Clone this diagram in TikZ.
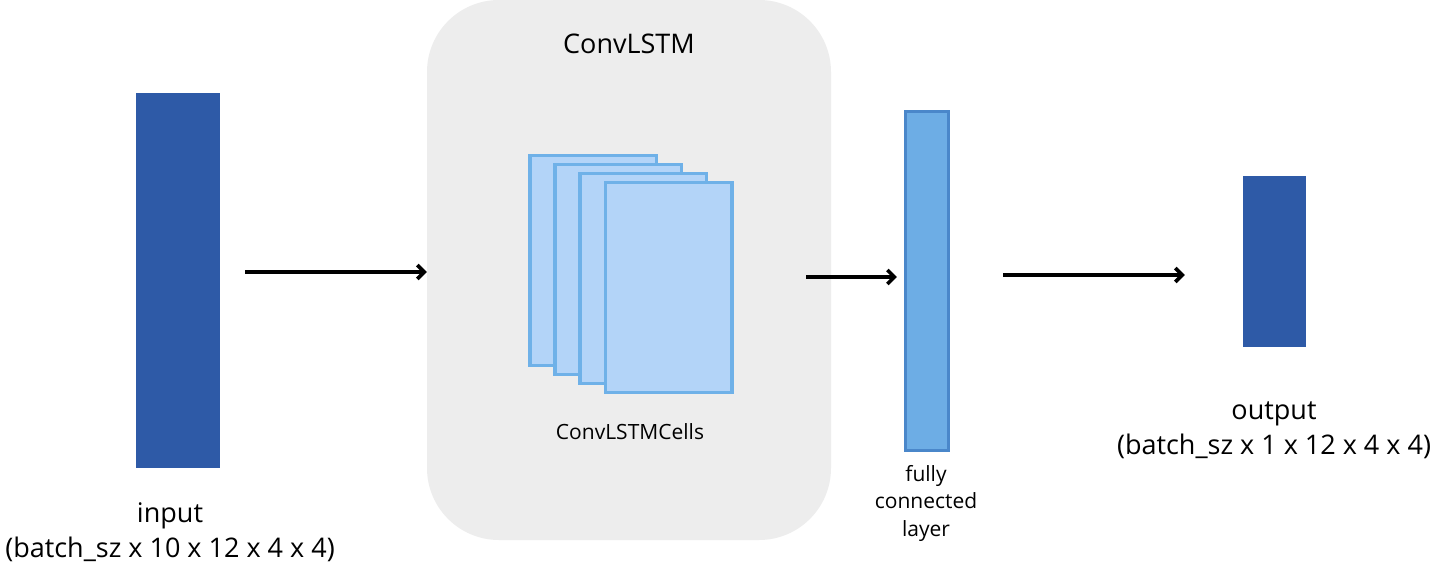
\documentclass[tikz,border=0pt]{standalone}
\usepackage{fontspec}
\setmainfont{Open Sans}
\usetikzlibrary{arrows.meta}
\usetikzlibrary{calc}

\definecolor{tensorblue}{HTML}{2E5AA7}
\definecolor{fcfill}{HTML}{6DADE5}
\definecolor{fcline}{HTML}{4A87CA}
\definecolor{cellfill}{HTML}{B3D4F8}
\definecolor{cellline}{HTML}{6FB1E8}
\definecolor{panelgray}{HTML}{EDEDED}

\tikzset{
    tensor/.style={fill=tensorblue, draw=none, inner sep=0pt},
    cell/.style={fill=cellfill, draw=cellline, line width=3.5pt,
        minimum width=126.5, minimum height=209.5, inner sep=0pt},
    flow/.style={line width=3.6pt, -{Straight Barb[length=7pt,width=14pt]}},
    bigtext/.style={font=\fontsize{27}{35}\selectfont, align=center},
    smalltext/.style={font=\fontsize{21}{27.5}\selectfont, align=center},
}

\begin{document}
\begin{tikzpicture}[x=1pt,y=-1pt]
    \useasboundingbox[fill=white] (0,0) rectangle (1436,572);

    % grey panel behind the recurrent part
    \node [fill=panelgray, rounded corners=72, minimum width=404, minimum height=540,
        inner sep=0pt] at (629,270) (panel) {};
    \node [bigtext] at (629,44) (paneltitle) {ConvLSTM};

    % stack of cells, back to front
    \foreach \i in {1,...,4} {
        \node [cell] at ({593+25.2*(\i-1)},{260.5+9*(\i-1)}) (cell\i) {};
    }
    \node [smalltext] at (630,432) (celltext) {ConvLSTMCells};

    % input tensor
    \node [tensor, minimum width=84, minimum height=375] at (178,280.5) (input) {};
    \node [bigtext] at (170,532) (inputtext) {input\\(batch\_sz x 10 x 12 x 4 x 4)};

    % fully connected layer
    \node [fill=fcfill, draw=fcline, line width=2.8pt, minimum width=43.5,
        minimum height=339.5, inner sep=0pt] at (927,281) (fc) {};
    \node [smalltext] at (926,503) (fctext) {fully\\connected\\layer};

    % output tensor
    \node [tensor, minimum width=63, minimum height=171] at (1274.5,261.5) (output) {};
    \node [bigtext] at (1274,430.5) (outputtext) {output\\(batch\_sz x 1 x 12 x 4 x 4)};

    % arrows between the stages
    \draw [flow] ([shift={(25,-8.5)}]input.east) -- ($(panel.west |- input.east)+(0,-8.5)$);
    \draw [flow] ($(panel.east |- fc.west)+(-25,-4)$) -- ([shift={(-7,-4)}]fc.west);
    \draw [flow] ([shift={(53,-6)}]fc.east) -- ($(output.west |- fc.east)+(-58,-6)$);

\end{tikzpicture}
\end{document}
